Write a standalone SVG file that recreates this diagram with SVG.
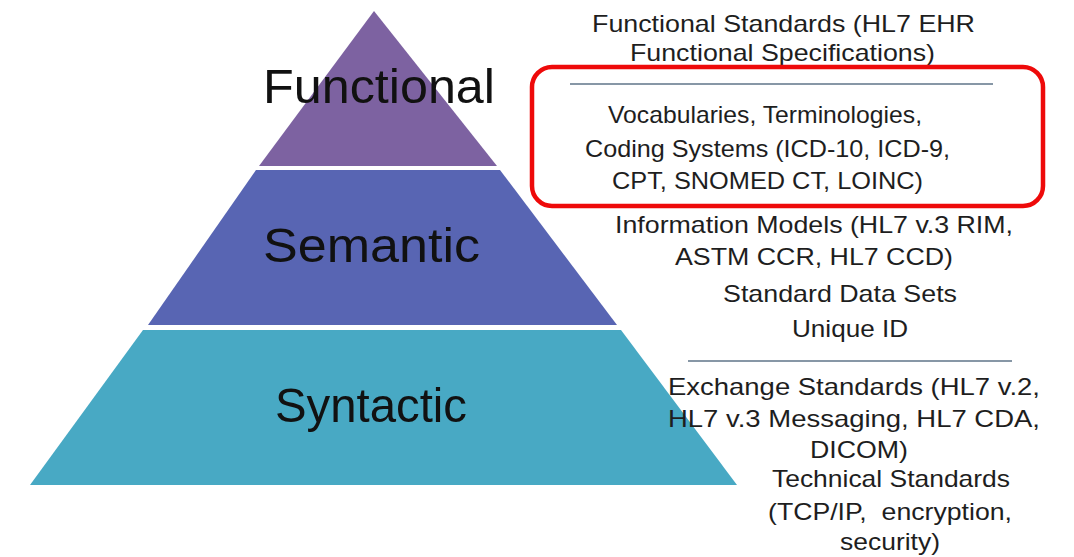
<svg xmlns="http://www.w3.org/2000/svg" width="1074" height="557" viewBox="0 0 1074 557">
<style>
.lbl{font-family:"Liberation Sans",Arial,sans-serif;font-size:49px;fill:#111;text-anchor:middle}
.t{font-family:"Liberation Sans",Arial,sans-serif;font-size:24px;fill:#1e1e1e;text-anchor:middle}
.sep{stroke:#8797a6;stroke-width:2}
</style>
<rect width="1074" height="557" fill="#ffffff"/>
<g id="layer-functional">
<polygon points="374,11 497,166 259,166" fill="#7d62a1"/>
<text class="lbl" x="379" y="103" textLength="232" lengthAdjust="spacingAndGlyphs">Functional</text>
</g>
<g id="layer-semantic">
<polygon points="256,170 500,170 617,325 148,325" fill="#5865b3"/>
<text class="lbl" x="371.5" y="262" textLength="217" lengthAdjust="spacingAndGlyphs">Semantic</text>
</g>
<g id="layer-syntactic">
<polygon points="143,330 621,330 737,485 30,485" fill="#48a9c4"/>
<text class="lbl" x="371" y="422" textLength="192" lengthAdjust="spacingAndGlyphs">Syntactic</text>
</g>
<g id="connectors">
<line class="sep" x1="570" y1="84" x2="993" y2="84"/>
<line class="sep" x1="688" y1="361" x2="1012" y2="361"/>
</g>
<g id="functional-standards">
<text class="t" x="783.5" y="32" textLength="383" lengthAdjust="spacingAndGlyphs">Functional Standards (HL7 EHR</text>
<text class="t" x="782.5" y="61" textLength="305" lengthAdjust="spacingAndGlyphs">Functional Specifications)</text>
</g>
<g id="vocabularies">
<rect x="532" y="67" width="511" height="139" rx="20" ry="20" fill="none" stroke="#ee0a0a" stroke-width="4.5"/>
<text class="t" x="765" y="123" textLength="314" lengthAdjust="spacingAndGlyphs">Vocabularies, Terminologies,</text>
<text class="t" x="767.5" y="157" textLength="365" lengthAdjust="spacingAndGlyphs">Coding Systems (ICD-10, ICD-9,</text>
<text class="t" x="767.5" y="189" textLength="311" lengthAdjust="spacingAndGlyphs">CPT, SNOMED CT, LOINC)</text>
</g>
<g id="information-models">
<text class="t" x="814" y="233" textLength="398" lengthAdjust="spacingAndGlyphs">Information Models (HL7 v.3 RIM,</text>
<text class="t" x="814" y="265" textLength="278" lengthAdjust="spacingAndGlyphs">ASTM CCR, HL7 CCD)</text>
<text class="t" x="840" y="302" textLength="234" lengthAdjust="spacingAndGlyphs">Standard Data Sets</text>
<text class="t" x="850" y="337" textLength="116" lengthAdjust="spacingAndGlyphs">Unique ID</text>
</g>
<g id="exchange-standards">
<text class="t" x="854" y="395" textLength="372" lengthAdjust="spacingAndGlyphs">Exchange Standards (HL7 v.2,</text>
<text class="t" x="854" y="427" textLength="372" lengthAdjust="spacingAndGlyphs">HL7 v.3 Messaging, HL7 CDA,</text>
<text class="t" x="859" y="458" textLength="98" lengthAdjust="spacingAndGlyphs">DICOM)</text>
</g>
<g id="technical-standards">
<text class="t" x="891" y="487" textLength="238" lengthAdjust="spacingAndGlyphs">Technical Standards</text>
<text class="t" x="890" y="520" textLength="244" lengthAdjust="spacingAndGlyphs" xml:space="preserve">(TCP/IP,  encryption,</text>
<text class="t" x="890" y="550" textLength="100" lengthAdjust="spacingAndGlyphs">security)</text>
</g>
</svg>
